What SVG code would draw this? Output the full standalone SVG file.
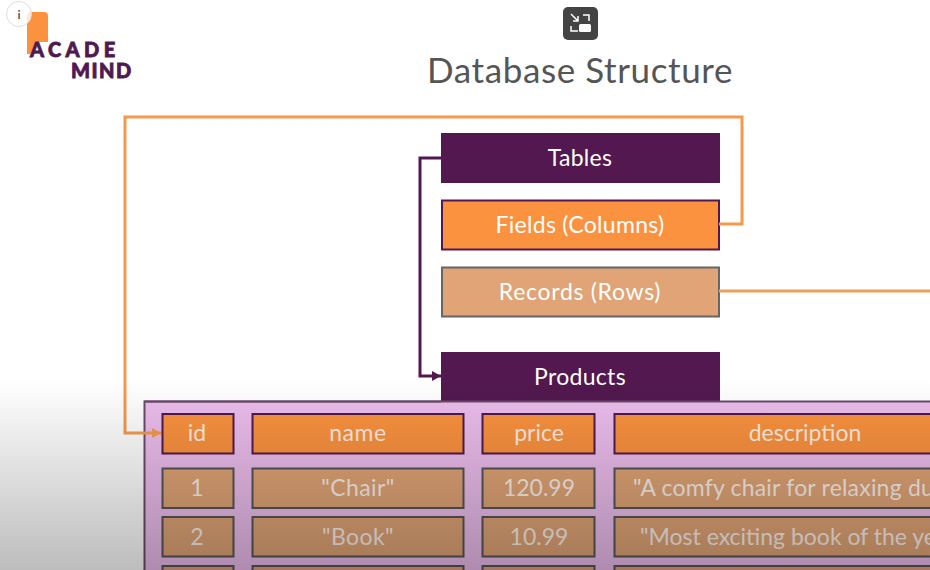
<svg xmlns="http://www.w3.org/2000/svg" width="930" height="570" viewBox="0 0 930 570">
<style>
text{font-family:"Lato","Noto Sans","Liberation Sans",sans-serif;text-anchor:middle}
.lbl{font-size:23px;fill:#fff;letter-spacing:0.3px}
.hd{fill:#fb923f;stroke:#4f1a4f;stroke-width:2}
.rw{fill:#e0a476;stroke:#555;stroke-width:2}
.cell{font-size:23px;fill:#fff;fill-opacity:0.85}
.pur{fill:#52184f}
.conn{fill:none;stroke-width:3}
.logo{font-family:"Lato","Liberation Sans",sans-serif;font-weight:900;font-size:20px;fill:#4f1a4f;stroke:#4f1a4f;stroke-width:0.8;text-anchor:start}
</style>
<defs>
<marker id="ao" markerUnits="userSpaceOnUse" markerWidth="9" markerHeight="10" refX="9" refY="5" orient="auto"><path d="M0 0L9 5L0 10Z" fill="#f49a4e"/></marker>
<marker id="ap" markerUnits="userSpaceOnUse" markerWidth="9" markerHeight="10" refX="9" refY="5" orient="auto"><path d="M0 0L9 5L0 10Z" fill="#52184f"/></marker>
<linearGradient id="shade" x1="0" y1="0" x2="0" y2="1"><stop offset="0" stop-color="#000" stop-opacity="0"/><stop offset="1" stop-color="#000" stop-opacity="0.26"/></linearGradient>
</defs>
<rect width="930" height="570" fill="#fff"/>
<g id="logo">
<path d="M27 16Q27 12 31 12H44Q48 12 48 16V42L43 42L37 54L27 54Z" fill="#fb923f"/>
<path d="M28 58L37 42H43L49 58Z" fill="#fff"/>
<text class="logo" x="30" y="57" style="letter-spacing:4.400px">ACADE</text>
<text class="logo" x="71" y="78" style="letter-spacing:1.500px">MIND</text>
</g>
<g id="info">
<circle cx="19" cy="14" r="12.500" fill="#fff" fill-opacity="0.8" stroke="#ddd"/>
<text x="19" y="19" style="font-size:12px;font-weight:700;fill:#555">i</text>
</g>
<g id="expand">
<rect x="563" y="7" width="35" height="33" rx="5" fill="#444"/>
<path d="M571 14L578 21M578 16V21H573M583 15H589V21M571 26V31H578" fill="none" stroke="#fff" stroke-width="1.500"/>
<rect x="579" y="24" width="12" height="8" rx="1.500" fill="#fff"/>
</g>
<text id="title" x="580" y="83" style="font-size:35px;fill:#555;letter-spacing:0.6px">Database Structure</text>
<g id="tables"><rect class="pur" x="441" y="133" width="279" height="50"/><text class="lbl" x="580" y="166">Tables</text></g>
<g id="fields"><rect x="442" y="200.500" width="277" height="49" fill="#fb923f" stroke="#52184f" stroke-width="2"/><text class="lbl" x="580" y="233">Fields (Columns)</text></g>
<g id="records"><rect x="442" y="267.500" width="277" height="49" fill="#e0a476" stroke="#666" stroke-width="2"/><text class="lbl" x="580" y="300" style="letter-spacing:0.7px">Records (Rows)</text></g>
<g id="products"><rect class="pur" x="441" y="352" width="279" height="50"/><text class="lbl" x="580" y="385">Products</text></g>
<g id="table">
<rect x="144.500" y="401.500" width="800" height="180" fill="#ecbdec" stroke="#6a4a6a" stroke-width="2"/>
<rect x="144" y="400.500" width="297" height="2" fill="#6a4a6a"/>
</g>
<g id="col-id"><rect class="hd" x="162.500" y="414" width="71" height="39.500"/><text class="cell" x="197" y="441">id</text></g>
<g id="col-name"><rect class="hd" x="252.500" y="414" width="211" height="39.500"/><text class="cell" x="358" y="441" style="letter-spacing:0.6px">name</text></g>
<g id="col-price"><rect class="hd" x="482.500" y="414" width="112" height="39.500"/><text class="cell" x="539" y="441">price</text></g>
<g id="col-description"><rect class="hd" x="614.500" y="414" width="330" height="39.500"/><text class="cell" x="805" y="441">description</text></g>
<g id="row1">
<rect class="rw" x="162.500" y="468.500" width="71" height="39.500"/><text class="cell" x="197" y="496">1</text>
<rect class="rw" x="252.500" y="468.500" width="211" height="39.500"/><text class="cell" x="358" y="496" style="letter-spacing:0.4px">"Chair"</text>
<rect class="rw" x="482.500" y="468.500" width="112" height="39.500"/><text class="cell" x="539" y="496">120.99</text>
<rect class="rw" x="614.500" y="468.500" width="330" height="39.500"/><text class="cell" x="633" y="496" style="text-anchor:start;letter-spacing:0.2px">"A comfy chair for relaxing du</text>
</g>
<g id="row2">
<rect class="rw" x="162.500" y="517" width="71" height="39.500"/><text class="cell" x="197" y="545">2</text>
<rect class="rw" x="252.500" y="517" width="211" height="39.500"/><text class="cell" x="358" y="545" style="letter-spacing:0.4px">"Book"</text>
<rect class="rw" x="482.500" y="517" width="112" height="39.500"/><text class="cell" x="539" y="545">10.99</text>
<rect class="rw" x="614.500" y="517" width="330" height="39.500"/><text class="cell" x="640" y="545" style="text-anchor:start">"Most exciting book of the ye</text>
</g>
<g id="row3">
<rect class="rw" x="162.500" y="566" width="71" height="30"/>
<rect class="rw" x="252.500" y="566" width="211" height="30"/>
<rect class="rw" x="482.500" y="566" width="112" height="30"/>
<rect class="rw" x="614.500" y="566" width="330" height="30"/>
</g>
<g id="connectors">
<path class="conn" d="M719 224H742V117H125V433H161" stroke="#f49a4e" marker-end="url(#ao)"/>
<path class="conn" d="M719 291H930" stroke="#eba060"/>
<path class="conn" d="M441 158H420V376H441" stroke="#52184f" marker-end="url(#ap)"/>
</g>
<rect id="shade-overlay" x="0" y="380" width="930" height="190" fill="url(#shade)"/>
</svg>
